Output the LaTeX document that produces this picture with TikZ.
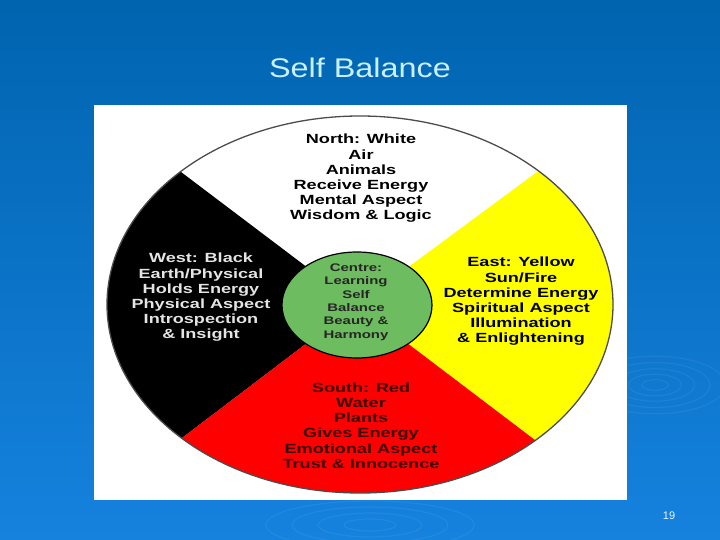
\documentclass[tikz,border=0pt]{standalone}
\usepackage{fontspec}
\setmainfont{Liberation Sans}
\newfontfamily\wheelfont[FakeStretch=1.36]{Liberation Sans Bold}
\newfontfamily\titlefont[FakeStretch=1.2]{Liberation Sans}
\definecolor{bgtop}{RGB}{0,100,175}
\definecolor{bgbot}{RGB}{22,130,222}
\definecolor{titlecol}{RGB}{200,240,255}
\definecolor{wheelgreen}{RGB}{110,188,96}
\definecolor{wheelyellow}{RGB}{255,255,0}
\definecolor{wheelred}{RGB}{255,0,0}
\definecolor{westtext}{RGB}{228,228,228}
\definecolor{southtext}{RGB}{60,0,0}
\tikzset{
  wheeltext/.style={align=center, inner sep=0pt, font=\wheelfont\fontsize{13.3}{15.2}\selectfont},
  centretext/.style={align=center, inner sep=0pt, font=\wheelfont\fontsize{11}{13.4}\selectfont},
  ripple/.style={draw=white, opacity=0.06, line width=1.2pt}
}
\begin{document}
\begin{tikzpicture}[x=1pt,y=-1pt]
\useasboundingbox (0,0) rectangle (720,540);
\shade[top color=bgtop, bottom color=bgbot] (0,0) rectangle (720,540);
% faint ripples
\foreach \r in {12,24,36,50,64}{
  \draw[ripple] (655,385) ellipse ({\r*1.1} and {\r*0.45});
}
\foreach \r in {20,40,60,80}{
  \draw[ripple] (370,525) ellipse ({\r*1.3} and {\r*0.3});
}
% title
\node[text=titlecol, font=\titlefont\fontsize{27}{30}\selectfont] (title) at (360,68) {Self Balance};
% white panel
\fill[white] (94,105) rectangle (627,500);
% wheel geometry
\coordinate (c) at (357,305);
\coordinate (tl) at (5,39);
\coordinate (tr) at (717,39);
\coordinate (br) at (705,569);
\coordinate (bl) at (7,571);
\begin{scope}
  \clip (360,304.5) ellipse (253 and 188.5);
  \fill[white] (c) -- (tl) -- (tr) -- cycle;
  \fill[black] (c) -- (tl) -- (bl) -- cycle;
  \fill[wheelyellow] (c) -- (tr) -- (br) -- cycle;
  \fill[wheelred] (c) -- (bl) -- (br) -- cycle;
\end{scope}
\draw[black!70, line width=1.3pt] (360,304.5) ellipse (253 and 188.5);
\fill[wheelgreen, draw=black, line width=1.2pt] (357,305) ellipse (75 and 53);
% texts
\node[wheeltext, text=black] (north) at (361,178.5) {North: White\\Air\\Animals\\Receive Energy\\Mental Aspect\\Wisdom \& Logic};
\node[wheeltext, text=westtext] (west) at (201,297.5) {West: Black\\Earth/Physical\\Holds Energy\\Physical Aspect\\Introspection\\\& Insight};
\node[wheeltext, text=black] (east) at (521,301.5) {East: Yellow\\Sun/Fire\\Determine Energy\\Spiritual Aspect\\Illumination\\\& Enlightening};
\node[wheeltext, text=southtext] (south) at (361,425.5) {South: Red\\Water\\Plants\\Gives Energy\\Emotional Aspect\\Trust \& Innocence};
\node[centretext, text=black!85] (centre) at (356,302) {Centre:\\Learning\\Self\\Balance\\Beauty \&\\Harmony};
% page number
\node[text=white!90!cyan, font=\fontsize{11}{13}\selectfont] (pagenum) at (669,516) {19};
\end{tikzpicture}
\end{document}
